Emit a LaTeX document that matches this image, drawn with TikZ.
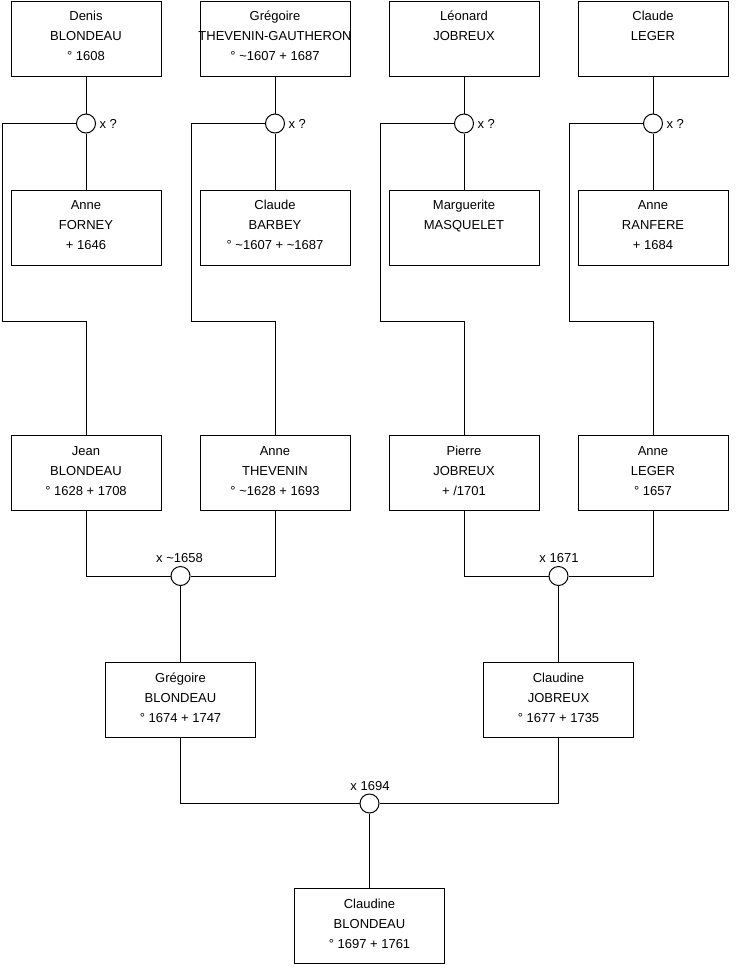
\documentclass[tikz,border=0pt]{standalone}
\usepackage{fontspec}
\setmainfont{Liberation Sans}
\begin{document}
\begin{tikzpicture}[x=1pt,y=-1pt,line width=1pt,
  pbox/.style={draw=black,fill=white,minimum width=150pt,minimum height=75pt,inner sep=0pt,anchor=north},
  ptext/.style={anchor=north,inner sep=0pt,align=center,font=\fontsize{13}{20}\selectfont},
  mcirc/.style={circle,draw=black,fill=white,minimum size=19pt,inner sep=0pt},
  mlab/.style={inner sep=0pt,font=\fontsize{13}{20}\selectfont}]
\fill[white] (0,0) rectangle (740,975);
\useasboundingbox (0,0) rectangle (740,975);
\newcommand{\personbox}[4]{%
  \node[pbox] (#1) at (#2,#3) {};
  \node[ptext] (#1t) at ([yshift=-5.7pt]#1.north) {#4};}
% row 1
\personbox{d1}{86}{0.5}{\strut Denis\\\strut BLONDEAU\\\strut ° 1608}
\personbox{d2}{275}{0.5}{\strut Grégoire\\\strut THEVENIN-GAUTHERON\\\strut ° \textasciitilde1607 + 1687}
\personbox{d3}{464}{0.5}{\strut Léonard\\\strut JOBREUX}
\personbox{d4}{653}{0.5}{\strut Claude\\\strut LEGER}
% row 2
\personbox{w1}{86}{189.5}{\strut Anne\\\strut FORNEY\\\strut + 1646}
\personbox{w2}{275}{189.5}{\strut Claude\\\strut BARBEY\\\strut ° \textasciitilde1607 + \textasciitilde1687}
\personbox{w3}{464}{189.5}{\strut Marguerite\\\strut MASQUELET}
\personbox{w4}{653}{189.5}{\strut Anne\\\strut RANFERE\\\strut + 1684}
% row 3
\personbox{c1}{86}{435}{\strut Jean\\\strut BLONDEAU\\\strut ° 1628 + 1708}
\personbox{c2}{275}{435}{\strut Anne\\\strut THEVENIN\\\strut ° \textasciitilde1628 + 1693}
\personbox{c3}{464}{435}{\strut Pierre\\\strut JOBREUX\\\strut + /1701}
\personbox{c4}{653}{435}{\strut Anne\\\strut LEGER\\\strut ° 1657}
% row 4
\personbox{g1}{180.5}{662}{\strut Grégoire\\\strut BLONDEAU\\\strut ° 1674 + 1747}
\personbox{g2}{558.5}{662}{\strut Claudine\\\strut JOBREUX\\\strut ° 1677 + 1735}
% row 5
\personbox{f}{369.5}{888}{\strut Claudine\\\strut BLONDEAU\\\strut ° 1697 + 1761}
% marriage circles
\node[mcirc] (m1) at (86,123.5) {};
\node[mcirc] (m2) at (275,123.5) {};
\node[mcirc] (m3) at (464,123.5) {};
\node[mcirc] (m4) at (653,123.5) {};
\node[mcirc] (m5) at (180.5,576) {};
\node[mcirc] (m6) at (558.5,576) {};
\node[mcirc] (m7) at (369.5,803.5) {};
% labels
\node[mlab,anchor=west] (l1) at ([xshift=3pt]m1.east) {x ?};
\node[mlab,anchor=west] (l2) at ([xshift=3pt]m2.east) {x ?};
\node[mlab,anchor=west] (l3) at ([xshift=3pt]m3.east) {x ?};
\node[mlab,anchor=west] (l4) at ([xshift=3pt]m4.east) {x ?};
\node[mlab,anchor=base] (l5) at (179.5,562.7) {x \textasciitilde1658};
\node[mlab,anchor=base] (l6) at (559,562.7) {x 1671};
\node[mlab,anchor=base] (l7) at (370,790.3) {x 1694};
% connectors top generation
\foreach \i/\lx in {1/2,2/191,3/380,4/569}{
  \draw (d\i.south) -- (m\i.north);
  \draw (m\i.south) -- (w\i.north);
  \draw (m\i.west) -| (\lx,321.5) -| (c\i.north);
}
% middle marriages
\draw (c1.south) |- (m5.west);
\draw (c2.south) |- (m5.east);
\draw (m5.south) -- (g1.north);
\draw (c3.south) |- (m6.west);
\draw (c4.south) |- (m6.east);
\draw (m6.south) -- (g2.north);
% final marriage
\draw (g1.south) |- (m7.west);
\draw (g2.south) |- (m7.east);
\draw (m7.south) -- (f.north);
\end{tikzpicture}
\end{document}
